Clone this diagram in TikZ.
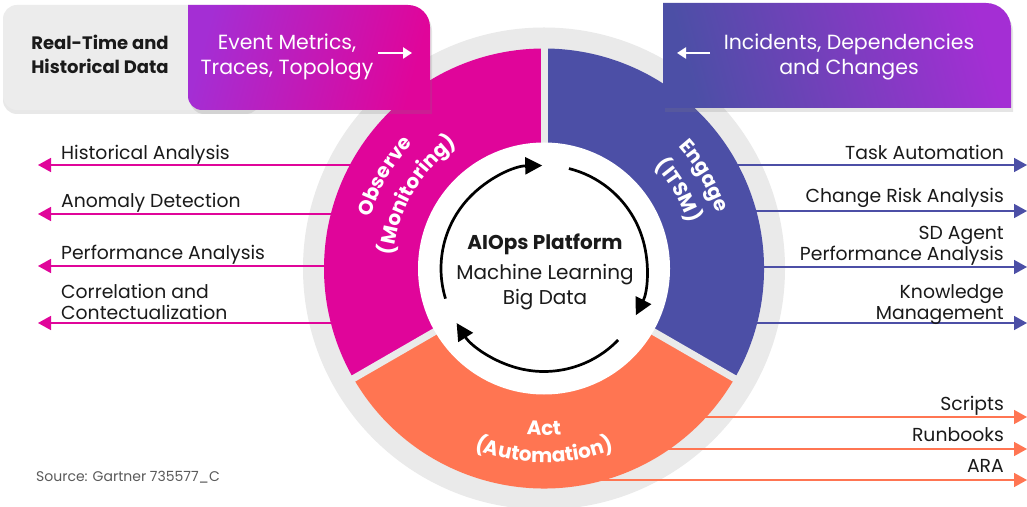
\documentclass[tikz,border=0pt]{standalone}
\usepackage{fontspec}
\setmainfont{Poppins}
\usetikzlibrary{arrows.meta,decorations.text,shadows,calc}
\definecolor{mag}{HTML}{E0059A}
\definecolor{engblue}{HTML}{4C4FA6}
\definecolor{actor}{HTML}{FF7552}
\definecolor{ringgrey}{HTML}{EAEAEA}
\definecolor{boxpurple}{HTML}{A42ED4}
\definecolor{txt}{HTML}{1A1A1A}
\definecolor{srcgrey}{HTML}{5A5A5A}
\tikzset{
  x=1pt,y=1pt,
  listlbl/.style={font=\fontsize{18.8}{21}\selectfont, text=txt, inner sep=0pt, align=left},
  listlblr/.style={font=\fontsize{18.8}{21}\selectfont, text=txt, inner sep=0pt, align=right},
  magarrow/.style={draw=mag, line width=1.6pt, -{Triangle[length=13pt,width=14pt]}},
  bluearrow/.style={draw=engblue, line width=1.6pt, -{Triangle[length=13pt,width=14pt]}},
  orarrow/.style={draw=actor, line width=1.6pt, -{Triangle[length=13pt,width=14pt]}},
  cyclearrow/.style={draw=black, line width=2.7pt, -{Triangle[length=17pt,width=17pt]}},
  boxtext/.style={font=\fontsize{20.5}{25}\selectfont, align=center, inner sep=0pt},
  gap/.style={draw=ringgrey, line width=7pt},
}
\begin{document}
\begin{tikzpicture}
\useasboundingbox (0,0) rectangle (1027,506);
\fill[white] (0,0) rectangle (1027,506);
\coordinate (C) at (544,237.5);
% grey ring
\fill[ringgrey] (C) circle[radius=241];
% list connector coordinates
\coordinate (m1s) at (400,341); \coordinate (m1e) at (38,341);
\coordinate (m2s) at (400,292); \coordinate (m2e) at (38,292);
\coordinate (m3s) at (400,240); \coordinate (m3e) at (38,240);
\coordinate (m4s) at (400,183); \coordinate (m4e) at (38,183);
\coordinate (b1s) at (690,341); \coordinate (b1e) at (1027,341);
\coordinate (b2s) at (690,295); \coordinate (b2e) at (1027,295);
\coordinate (b3s) at (690,239); \coordinate (b3e) at (1027,239);
\coordinate (b4s) at (690,183); \coordinate (b4e) at (1027,183);
\coordinate (o1s) at (650,89); \coordinate (o1e) at (1027,89);
\coordinate (o2s) at (620,57); \coordinate (o2e) at (1027,57);
\coordinate (o3s) at (580,26); \coordinate (o3e) at (1027,26);
\draw[magarrow] (m1s) -- (m1e);
\draw[magarrow] (m2s) -- (m2e);
\draw[magarrow] (m3s) -- (m3e);
\draw[magarrow] (m4s) -- (m4e);
\draw[bluearrow] (b1s) -- (b1e);
\draw[bluearrow] (b2s) -- (b2e);
\draw[bluearrow] (b3s) -- (b3e);
\draw[bluearrow] (b4s) -- (b4e);
\draw[orarrow] (o1s) -- (o1e);
\draw[orarrow] (o2s) -- (o2e);
\draw[orarrow] (o3s) -- (o3e);
% sectors
\fill[mag] (C) -- ++(90:220) arc[start angle=90, end angle=210, radius=220] -- cycle;
\fill[engblue] (C) -- ++(-30:220) arc[start angle=-30, end angle=90, radius=220] -- cycle;
\fill[actor] (C) -- ++(210:220) arc[start angle=210, end angle=330, radius=220] -- cycle;
\draw[gap] (C) -- ++(90:221);
\draw[gap] (C) -- ++(210:221);
\draw[gap] (C) -- ++(330:221);
% inner white disc
\fill[white] (C) circle[radius=126];
% cycle arrows
\draw[cyclearrow] ($(C)+(197:103)$) arc[start angle=197, end angle=91, radius=103];
\draw[cyclearrow] ($(C)+(76:103)$) arc[start angle=76, end angle=-27, radius=103];
\draw[cyclearrow] ($(C)+(-44:103)$) arc[start angle=-44, end angle=-148, radius=103];
% centre text
\node[font=\fontsize{20}{24}\selectfont\bfseries, text=txt] (ai) at (545,262) {AIOps Platform};
\node[font=\fontsize{20}{24}\selectfont, text=txt] (ml) at (545,231.5) {Machine Learning};
\node[font=\fontsize{20}{24}\selectfont, text=txt] (bd) at (545,206.5) {Big Data};
% curved labels
\path[decorate, decoration={text along path, text align=center,
  text={|\fontsize{20}{22}\selectfont\bfseries\color{white}|Observe}}]
  ($(C)+(178:181)$) arc[start angle=178, end angle=122, radius=181];
\path[decorate, decoration={text along path, text align=center,
  text={|\fontsize{20}{22}\selectfont\bfseries\color{white}|(Monitoring)}}]
  ($(C)+(185:151)$) arc[start angle=185, end angle=115, radius=151];
\path[decorate, decoration={text along path, text align=center,
  text={|\fontsize{20}{22}\selectfont\bfseries\color{white}|Engage}}]
  ($(C)+(58:181)$) arc[start angle=58, end angle=2, radius=181];
\path[decorate, decoration={text along path, text align=center,
  text={|\fontsize{20}{22}\selectfont\bfseries\color{white}|(ITSM)}}]
  ($(C)+(65:151)$) arc[start angle=65, end angle=-5, radius=151];
\path[decorate, decoration={text along path, text align=center,
  text={|\fontsize{20}{22}\selectfont\bfseries\color{white}|Act}}]
  ($(C)+(240:167)$) arc[start angle=240, end angle=300, radius=167];
\path[decorate, decoration={text along path, text align=center,
  text={|\fontsize{20}{22}\selectfont\bfseries\color{white}|(Automation)}}]
  ($(C)+(230:194)$) arc[start angle=230, end angle=310, radius=194];
% top boxes
\fill[ringgrey!90!white, rounded corners=14pt, drop shadow={opacity=0.18, shadow xshift=0pt, shadow yshift=-4pt}]
  (3,396) rectangle (260,501);
\path[left color=boxpurple, right color=mag, shading angle=75, drop shadow={opacity=0.2, shadow xshift=2pt, shadow yshift=-4pt}]
  (188,501) -- (408,501) arc[start angle=90, end angle=0, radius=22] -- (430,396) -- (202,396) arc[start angle=270, end angle=180, radius=14] -- cycle;
\path[left color=engblue, right color=boxpurple, shading angle=105, drop shadow={opacity=0.2, shadow xshift=2pt, shadow yshift=-4pt}]
  (663,503) -- (986,503) arc[start angle=90, end angle=0, radius=25] -- (1011,398) -- (663,398) -- cycle;
\node[boxtext, text=txt, font=\fontsize{18}{24}\selectfont\bfseries] (rt) at (100,452) {Real-Time and\\Historical Data};
\node[boxtext, text=white] (ev) at (287,449.5) {Event Metrics,\\Traces, Topology};
\node[boxtext, text=white] (inc) at (849,449.5) {Incidents, Dependencies\\and Changes};
\coordinate (ra1) at (378,453); \coordinate (ra2) at (412,453);
\coordinate (la1) at (710,453); \coordinate (la2) at (677,453);
\draw[white, line width=2.2pt, -{Triangle[length=9pt,width=11pt]}] (ra1) -- (ra2);
\draw[white, line width=2.2pt, -{Triangle[length=9pt,width=11pt]}] (la1) -- (la2);
% list labels
\node[listlbl, anchor=west] (l1) at (61,351) {Historical Analysis};
\node[listlbl, anchor=west] (l2) at (61,303) {Anomaly Detection};
\node[listlbl, anchor=west] (l3) at (61,251) {Performance Analysis};
\node[listlbl, anchor=west] (l4) at (61,204.5) {Correlation and\\Contectualization};
\node[listlblr, anchor=east] (r1) at (1004,354) {Task Automation};
\node[listlblr, anchor=east] (r2) at (1004,308) {Change Risk Analysis};
\node[listlblr, anchor=east] (r3) at (1004,260) {SD Agent\\Performance Analysis};
\node[listlblr, anchor=east] (r4) at (1004,201) {Knowledge\\Management};
\node[listlblr, anchor=east] (s1) at (1004,100) {Scripts};
\node[listlblr, anchor=east] (s2) at (1004,71) {Runbooks};
\node[listlblr, anchor=east] (s3) at (1004,40) {ARA};
\node[font=\fontsize{14}{16}\selectfont, text=srcgrey, anchor=west, inner sep=0pt] (src) at (36,29) {Source: Gartner 735577\_C};
\end{tikzpicture}
\end{document}
